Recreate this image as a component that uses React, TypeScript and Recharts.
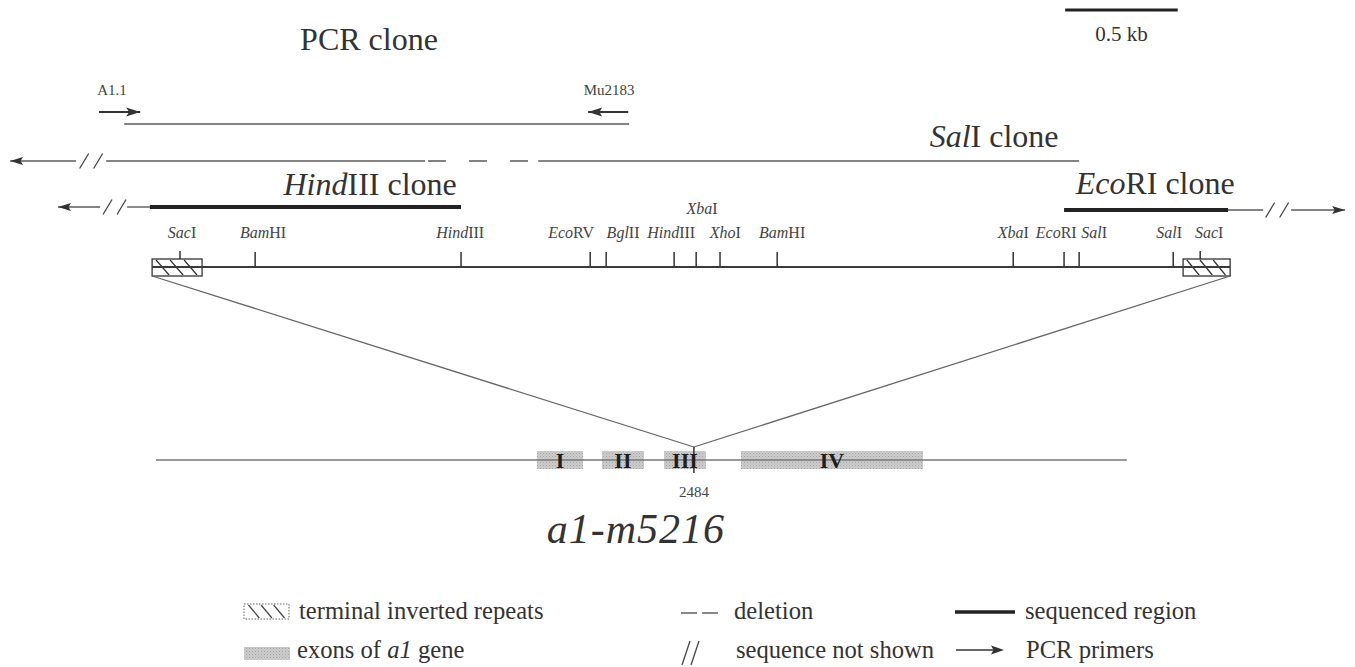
import React from 'react';
import { ComposedChart, XAxis, YAxis, Scatter, ReferenceLine, ReferenceArea } from 'recharts';

const W = 1355;
const H = 667;
const FONT = '"Liberation Serif", "Times New Roman", serif';
const INK = '#2b2b2b';
const THIN = '#5a5a5a';

// ---------- element map (bp from left end of the element) ----------
const elementLength = 4791;
const tirLeft = [0, 222];
const tirRight = [4582, 4791];

const siteNames = ['*Sac*I', '*Bam*HI', '*Hind*III', '*Eco*RV', '*Bgl*II', '*Hind*III', '*Xba*I', '*Xho*I', '*Bam*HI', '*Xba*I', '*Eco*RI', '*Sal*I', '*Sal*I', '*Sac*I'];
const sitePos = [124, 458, 1373, 1947, 2018, 2320, 2418, 2524, 2778, 3827, 4053, 4120, 4538, 4658];
const siteLabelNudge = [9, 35, -4, -85, 75, -13, 26, 23, 22, 0, -35, 67, -18, 40];
const siteLabelRaised = [false, false, false, false, false, false, true, false, false, false, false, false, false, false];
const siteOnRepeat = [true, false, false, false, false, false, false, false, false, false, false, false, false, true];

// ---------- clones ----------
const cloneNames = ['PCR clone', '*Sal*I clone', '*Hind*III clone', '*Eco*RI clone'];
const cloneLabelCenter = [964, 3742, 969, 4458];

const pcrSpan = [-124, 2120];
const primerNames = ['A1.1', 'Mu2183'];
const primerTail = [-236, 2116];
const primerHead = [-53, 1938];
const primerLabelCenter = [-178, 2031];

const salThin = [[-631, -338], [-204, 1213], [1716, 4120]];
const salDeletion = [1213, 1716];
const salBreak = -271;
const salArrowTip = -631;

const hindThin = [[-418, -231], [-111, -10]];
const hindSequenced = [-10, 1373];
const hindBreak = -167;
const hindArrowTip = -418;

const ecoSequenced = [4053, 4782];
const ecoThin = [[4782, 4938], [5062, 5302]];
const ecoBreak = 5000;
const ecoArrowTip = 5302;

const scaleBar = [4058, 4558];
const scaleLabel = '0.5 kb';

// ---------- a1 gene (bp) ----------
const geneSpan = [93, 4408];
const exonNames = ['I', 'II', 'III', 'IV'];
const exonStart = [1786, 2075, 2351, 2693];
const exonEnd = [1991, 2262, 2537, 3502];
const insertionSite = 2484;
const alleleName = '*a1-m5216*';
const alleleLabelCenter = 2226;

// ---------- axes / layout ----------
const EL_DOMAIN: [number, number] = [-676, 5346];
const GENE_DOMAIN: [number, number] = [-600, 5422];
const geneToEl = (g: number) =>
  EL_DOMAIN[0] + ((g - GENE_DOMAIN[0]) / (GENE_DOMAIN[1] - GENE_DOMAIN[0])) * (EL_DOMAIN[1] - EL_DOMAIN[0]);

const ROW = {
  scaleBar: 10,
  scaleLabel: 41,
  pcrTitle: 50,
  primerLabel: 95,
  primer: 112,
  pcr: 124,
  salLabel: 147,
  sal: 161,
  hindLabel: 195,
  hind: 207,
  ecoLabel: 194,
  eco: 210,
  raisedLabel: 214,
  siteLabel: 238,
  tickTop: 252,
  repeatTickTop: 251,
  boxTop: 259,
  map: 267,
  boxBottom: 276,
  fanBottom: 447,
  exonTop: 451,
  exonBottom: 469,
  gene: 460,
  exonText: 468,
  insTop: 447,
  insBottom: 473,
  posLabel: 497,
  allele: 543,
};

function Rich({ x, y, text, size, anchor = 'middle', fill = INK, weight = 'normal', spacing = 0 }: any) {
  const parts = String(text).split('*');
  return (
    <text x={x} y={y} fontSize={size} textAnchor={anchor} fontFamily={FONT} fill={fill} fontWeight={weight} letterSpacing={spacing}>
      {parts.map((p, i) => (p ? <tspan key={i} fontStyle={i % 2 === 1 ? 'italic' : 'normal'}>{p}</tspan> : null))}
    </text>
  );
}

const textShape = (size: number, extra: any = {}) => (p: any) => (
  <Rich x={p.cx} y={p.cy} text={p.payload.text} size={size} {...extra} />
);

const arrowShape = (len: number, half: number) => (p: any) => {
  const { cx, cy, payload } = p;
  const d = payload.dir;
  return <path d={`M${cx},${cy} L${cx - d * len},${cy - half} L${cx - d * len * 0.8},${cy} L${cx - d * len},${cy + half} Z`} fill="#333" />;
};

const slashShape = (p: any) => {
  const { cx, cy } = p;
  return (
    <g stroke="#444" strokeWidth={1.3}>
      {[-7, 7].map((o) => (
        <line key={o} x1={cx + o - 4.5} y1={cy + 7.5} x2={cx + o + 4.5} y2={cy - 7.5} />
      ))}
    </g>
  );
};

const repeatShape = (p: any) => {
  const { x, y, width, height } = p;
  const tops = [0.08, 0.36, 0.64];
  return (
    <g>
      <rect x={x} y={y} width={width} height={height} fill="#fff" stroke="#333" strokeWidth={1.3} />
      {tops.map((t) => (
        <line key={t} x1={x + width * t} y1={y + 1} x2={x + width * (t + 0.26)} y2={y + height - 1} stroke="#333" strokeWidth={1.2} />
      ))}
    </g>
  );
};

export default function App() {
  const E = 'el';
  const G = 'gene';
  const Y = 'y';

  const cloneTextData = cloneNames.map((n, i) => ({
    x: cloneLabelCenter[i],
    y: [ROW.pcrTitle, ROW.salLabel, ROW.hindLabel, ROW.ecoLabel][i],
    text: n,
  }));
  const primerTextData = primerNames.map((n, i) => ({ x: primerLabelCenter[i], y: ROW.primerLabel, text: n }));
  const siteTextData = siteNames.map((n, i) => ({
    x: sitePos[i] + siteLabelNudge[i],
    y: siteLabelRaised[i] ? ROW.raisedLabel : ROW.siteLabel,
    text: n,
  }));
  const primerArrowData = primerNames.map((_, i) => ({
    x: primerHead[i],
    y: ROW.primer,
    dir: primerHead[i] > primerTail[i] ? 1 : -1,
  }));
  const cloneArrowData = [
    { x: salArrowTip, y: ROW.sal, dir: -1 },
    { x: hindArrowTip, y: ROW.hind, dir: -1 },
    { x: ecoArrowTip, y: ROW.eco, dir: 1 },
  ];
  const breakData = [
    { x: salBreak, y: ROW.sal },
    { x: hindBreak, y: ROW.hind },
    { x: ecoBreak, y: ROW.eco },
  ];
  const exonTextData = exonNames.map((n, i) => ({ x: (exonStart[i] + exonEnd[i]) / 2, y: ROW.exonText, text: n }));
  const insertionElX = geneToEl(insertionSite);

  const seg = (key: string, xa: string, x1: number, y1: number, x2: number, y2: number, props: any) => (
    <ReferenceLine
      key={key}
      xAxisId={xa}
      yAxisId={Y}
      segment={[{ x: x1, y: y1 }, { x: x2, y: y2 }]}
      ifOverflow="visible"
      {...props}
    />
  );

  return (
    <div style={{ position: 'absolute', left: 0, top: 0, width: W, height: H, background: '#fff' }}>
      <svg width={0} height={0} style={{ position: 'absolute' }}>
        <defs>
          <pattern id="exonDots" width="3" height="3" patternUnits="userSpaceOnUse">
            <rect width="3" height="3" fill="#cdcdcd" />
            <rect width="1" height="1" fill="#a2a2a2" />
            <rect x="1.5" y="1.5" width="1" height="1" fill="#b2b2b2" />
          </pattern>
        </defs>
      </svg>
      <ComposedChart width={W} height={H} margin={{ top: 0, right: 0, bottom: 0, left: 0 }}>
        <XAxis xAxisId={E} type="number" dataKey="x" domain={EL_DOMAIN} allowDataOverflow hide />
        <XAxis xAxisId={G} type="number" dataKey="x" domain={GENE_DOMAIN} allowDataOverflow hide />
        <YAxis yAxisId={Y} type="number" dataKey="y" domain={[0, H]} reversed allowDataOverflow hide />

        {/* scale bar */}
        {seg('scale', E, scaleBar[0], ROW.scaleBar, scaleBar[1], ROW.scaleBar, { stroke: '#222', strokeWidth: 3 })}

        {/* PCR clone */}
        {seg('pcr', E, pcrSpan[0], ROW.pcr, pcrSpan[1], ROW.pcr, { stroke: THIN, strokeWidth: 1.5 })}
        {primerNames.map((_, i) =>
          seg('pr' + i, E, primerTail[i], ROW.primer, primerHead[i], ROW.primer, { stroke: '#333', strokeWidth: 1.8 })
        )}

        {/* SalI clone */}
        {salThin.map((s, i) => seg('sal' + i, E, s[0], ROW.sal, s[1], ROW.sal, { stroke: THIN, strokeWidth: 1.4 }))}
        {seg('salDel', E, salDeletion[0], ROW.sal, salDeletion[1], ROW.sal, {
          stroke: THIN,
          strokeWidth: 1.4,
          strokeDasharray: '0 3 18 20',
        })}

        {/* HindIII clone */}
        {hindThin.map((s, i) => seg('hind' + i, E, s[0], ROW.hind, s[1], ROW.hind, { stroke: THIN, strokeWidth: 1.4 }))}
        {seg('hindSeq', E, hindSequenced[0], ROW.hind, hindSequenced[1], ROW.hind, { stroke: '#222', strokeWidth: 4 })}

        {/* EcoRI clone */}
        {ecoThin.map((s, i) => seg('eco' + i, E, s[0], ROW.eco, s[1], ROW.eco, { stroke: THIN, strokeWidth: 1.4 }))}
        {seg('ecoSeq', E, ecoSequenced[0], ROW.eco, ecoSequenced[1], ROW.eco, { stroke: '#222', strokeWidth: 4 })}

        {/* element map */}
        {seg('map', E, 0, ROW.map, elementLength, ROW.map, { stroke: '#3a3a3a', strokeWidth: 2 })}
        {sitePos.map((p, i) =>
          seg('tick' + i, E, p, siteOnRepeat[i] ? ROW.repeatTickTop : ROW.tickTop, p, siteOnRepeat[i] ? ROW.boxTop : ROW.map, {
            stroke: '#333',
            strokeWidth: 1.5,
          })
        )}
        <ReferenceArea xAxisId={E} yAxisId={Y} x1={tirLeft[0]} x2={tirLeft[1]} y1={ROW.boxTop} y2={ROW.boxBottom} shape={repeatShape} ifOverflow="visible" />
        <ReferenceArea xAxisId={E} yAxisId={Y} x1={tirRight[0]} x2={tirRight[1]} y1={ROW.boxTop} y2={ROW.boxBottom} shape={repeatShape} ifOverflow="visible" />

        {/* fan to insertion site */}
        {seg('fanL', E, tirLeft[0], ROW.boxBottom, insertionElX, ROW.fanBottom, { stroke: '#666', strokeWidth: 1.3 })}
        {seg('fanR', E, tirRight[1], ROW.boxBottom, insertionElX, ROW.fanBottom, { stroke: '#666', strokeWidth: 1.3 })}

        {/* gene */}
        {seg('gene', G, geneSpan[0], ROW.gene, geneSpan[1], ROW.gene, { stroke: '#777', strokeWidth: 1.4 })}
        {exonNames.map((n, i) => (
          <ReferenceArea
            key={'ex' + i}
            xAxisId={G}
            yAxisId={Y}
            x1={exonStart[i]}
            x2={exonEnd[i]}
            y1={ROW.exonTop}
            y2={ROW.exonBottom}
            fill="url(#exonDots)"
            fillOpacity={1}
            stroke="none"
            ifOverflow="visible"
          />
        ))}
        {seg('ins', G, insertionSite, ROW.insTop, insertionSite, ROW.insBottom, { stroke: '#333', strokeWidth: 1.5 })}

        {/* marks */}
        <Scatter xAxisId={E} yAxisId={Y} data={primerArrowData} shape={arrowShape(14, 4.5)} isAnimationActive={false} />
        <Scatter xAxisId={E} yAxisId={Y} data={cloneArrowData} shape={arrowShape(13, 4)} isAnimationActive={false} />
        <Scatter xAxisId={E} yAxisId={Y} data={breakData} shape={slashShape} isAnimationActive={false} />

        {/* texts */}
        <Scatter xAxisId={E} yAxisId={Y} data={cloneTextData} shape={textShape(32, { fill: '#333' })} isAnimationActive={false} />
        <Scatter xAxisId={E} yAxisId={Y} data={primerTextData} shape={textShape(15, { fill: '#444' })} isAnimationActive={false} />
        <Scatter xAxisId={E} yAxisId={Y} data={siteTextData} shape={textShape(16, { fill: '#444' })} isAnimationActive={false} />
        <Scatter
          xAxisId={E}
          yAxisId={Y}
          data={[{ x: (scaleBar[0] + scaleBar[1]) / 2, y: ROW.scaleLabel, text: scaleLabel }]}
          shape={textShape(21, { fill: '#333' })}
          isAnimationActive={false}
        />
        <Scatter xAxisId={G} yAxisId={Y} data={exonTextData} shape={textShape(22, { fill: '#1e1e1e', weight: 'bold' })} isAnimationActive={false} />
        <Scatter
          xAxisId={G}
          yAxisId={Y}
          data={[{ x: insertionSite, y: ROW.posLabel, text: String(insertionSite) }]}
          shape={textShape(15, { fill: '#444' })}
          isAnimationActive={false}
        />
        <Scatter
          xAxisId={G}
          yAxisId={Y}
          data={[{ x: alleleLabelCenter, y: ROW.allele, text: alleleName }]}
          shape={textShape(42, { fill: '#333', spacing: 1 })}
          isAnimationActive={false}
        />
      </ComposedChart>

      {/* legend */}
      <svg width={W} height={H} style={{ position: 'absolute', left: 0, top: 0, pointerEvents: 'none' }}>
        <g fontFamily={FONT} fontSize={24.6} fill="#333">
          <rect x={244} y={604} width={45} height={15} fill="#fff" stroke="#666" strokeWidth={1} strokeDasharray="1.5 1.5" />
          {[0.1, 0.38, 0.66].map((t) => (
            <line key={t} x1={244 + 45 * t} y1={605} x2={244 + 45 * (t + 0.24)} y2={618} stroke="#444" strokeWidth={1.2} />
          ))}
          <text x={299} y={619}>terminal inverted repeats</text>
          <rect x={244} y={647} width={46} height={13} fill="url(#exonDots)" />
          <text x={297} y={658}>
            exons of <tspan fontStyle="italic">a1</tspan> gene
          </text>

          <line x1={681} y1={613} x2={697} y2={613} stroke="#555" strokeWidth={1.4} />
          <line x1={702} y1={613} x2={718} y2={613} stroke="#555" strokeWidth={1.4} />
          <text x={734} y={619}>deletion</text>
          <line x1={682} y1={665} x2={690} y2={641} stroke="#444" strokeWidth={1.3} />
          <line x1={691} y1={665} x2={699} y2={641} stroke="#444" strokeWidth={1.3} />
          <text x={736} y={658}>sequence not shown</text>

          <line x1={955} y1={612} x2={1015} y2={612} stroke="#222" strokeWidth={3.5} />
          <text x={1025} y={619}>sequenced region</text>
          <line x1={956} y1={650} x2={995} y2={650} stroke="#333" strokeWidth={1.5} />
          <path d="M1004,650 L991,645.5 L993.5,650 L991,654.5 Z" fill="#333" />
          <text x={1026} y={658}>PCR primers</text>
        </g>
      </svg>
    </div>
  );
}
